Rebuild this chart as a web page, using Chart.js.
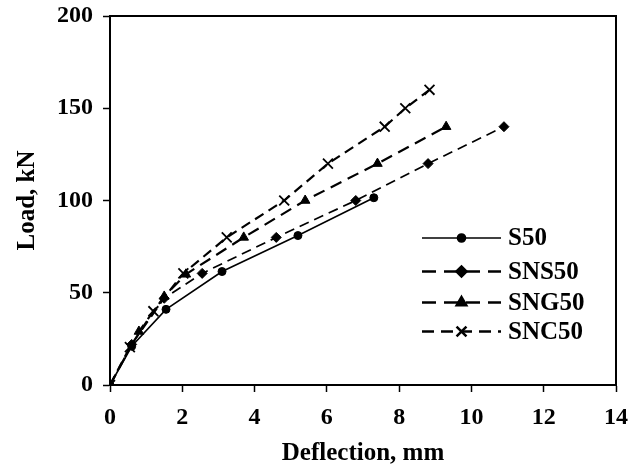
<!DOCTYPE html>
<html>
<head>
<meta charset="utf-8">
<script src="https://cdn.jsdelivr.net/npm/chart.js@4.4.1/dist/chart.umd.min.js"></script>
<style>
  html, body { margin: 0; padding: 0; background: #fff; }
</style>
</head>
<body>
<canvas id="myChart" width="641" height="475"></canvas>
<script>
// values
const seriesNames = ['S50', 'SNS50', 'SNG50', 'SNC50'];

const s50X = [0, 0.6, 1.55, 3.1, 5.2, 7.3];
const s50Y = [0, 21, 41, 61.5, 81, 101.5];

const sns50X = [0, 0.6, 1.5, 2.55, 4.6, 6.8, 8.8, 10.9];
const sns50Y = [0, 22, 47, 60.5, 80, 100, 120, 140];

const sng50X = [0, 0.8, 1.5, 2.1, 3.7, 5.4, 7.4, 9.3];
const sng50Y = [0, 29, 48, 60, 80, 100, 120, 140];

const snc50X = [0, 0.55, 1.2, 2.03, 3.23, 4.82, 6.03, 7.6, 8.17, 8.84];
const snc50Y = [0, 20.5, 40, 60.5, 80, 100, 120, 140, 150, 160];

const xTicks = [0, 2, 4, 6, 8, 10, 12, 14];
const yTicks = [0, 50, 100, 150, 200];

function toPoints(xs, ys) {
    return xs.map((x, i) => ({ x: x, y: ys[i] }));
}

const styles = [
    { marker: 'circle',   radius: 4,   dash: [],       width: 1.6, legendDash: [],       legendWidth: 1.6 },
    { marker: 'rectRot',  radius: 5,   dash: [10, 6],  width: 1.7, legendDash: [14, 8],  legendWidth: 2.5 },
    { marker: 'triangle', radius: 5.5, dash: [12, 7],  width: 2.2, legendDash: [14, 8],  legendWidth: 2.5 },
    { marker: 'crossRot', radius: 7,   dash: [10, 6],  width: 2.2, legendDash: [12, 7],  legendWidth: 2.5 }
];

const allX = [s50X, sns50X, sng50X, snc50X];
const allY = [s50Y, sns50Y, sng50Y, snc50Y];

const datasets = seriesNames.map((name, i) => ({
    label: name,
    data: toPoints(allX[i], allY[i]),
    borderColor: '#000',
    backgroundColor: '#000',
    borderWidth: styles[i].width,
    borderDash: styles[i].dash,
    pointStyle: styles[i].marker,
    pointRadius: styles[i].radius,
    pointBorderWidth: styles[i].marker === 'crossRot' ? 1.8 : 1,
    pointBackgroundColor: '#000',
    pointBorderColor: '#000',
    tension: 0,
    fill: false
}));

const tickFont = { family: 'Liberation Serif', size: 24, weight: 'bold' };
const titleFont = { family: 'Liberation Serif', size: 25, weight: 'bold' };

// box round the plot (top and right sides)
const framePlugin = {
    id: 'frame',
    afterDatasetsDraw(chart) {
        const a = chart.chartArea;
        const ctx = chart.ctx;
        ctx.save();
        ctx.strokeStyle = '#000';
        ctx.lineWidth = 2;
        ctx.beginPath();
        ctx.moveTo(a.left, a.top);
        ctx.lineTo(a.right, a.top);
        ctx.lineTo(a.right, a.bottom);
        ctx.stroke();
        ctx.restore();
    }
};

// legend drawn inside the plot, line + marker + name
const legendPlugin = {
    id: 'insideLegend',
    afterDraw(chart) {
        const ctx = chart.ctx;
        const x0 = 422, x1 = 501, tx = 508;
        const rows = [238, 271.5, 302.5, 331.5];
        ctx.save();
        seriesNames.forEach((name, i) => {
            const y = rows[i];
            ctx.strokeStyle = '#000';
            ctx.lineWidth = styles[i].legendWidth;
            ctx.setLineDash(styles[i].legendDash);
            ctx.beginPath();
            ctx.moveTo(x0, y);
            ctx.lineTo(x1, y);
            ctx.stroke();
            ctx.setLineDash([]);
            Chart.helpers.drawPoint(ctx, {
                pointStyle: styles[i].marker,
                radius: styles[i].radius,
                borderWidth: styles[i].marker === 'crossRot' ? 1.8 : 1,
                rotation: 0
            }, (x0 + x1) / 2, y);
            ctx.fillStyle = '#000';
            ctx.font = 'bold 25px "Liberation Serif"';
            ctx.textBaseline = 'middle';
            ctx.textAlign = 'left';
            ctx.fillText(name, tx, y + 1);
        });
        ctx.restore();
    }
};

new Chart(document.getElementById('myChart'), {
    type: 'line',
    data: { datasets: datasets },
    options: {
        responsive: false,
        animation: false,
        devicePixelRatio: 1,
        layout: { padding: { top: 16, right: 25, left: 0, bottom: 0 } },
        plugins: {
            legend: { display: false },
            tooltip: { enabled: false }
        },
        scales: {
            x: {
                type: 'linear',
                min: 0,
                max: 14,
                afterBuildTicks: s => { s.ticks = xTicks.map(v => ({ value: v })); },
                afterFit: s => { s.height = 90; s.paddingLeft = 0; s.paddingRight = 0; },
                ticks: { font: tickFont, color: '#000', padding: 11 },
                grid: { drawOnChartArea: false, drawTicks: true, tickLength: 7, tickColor: '#000', tickWidth: 1.5 },
                border: { color: '#000', width: 2 },
                title: {
                    display: true,
                    text: 'Deflection, mm',
                    color: '#000',
                    font: titleFont,
                    padding: { top: 0, bottom: 6 }
                }
            },
            y: {
                type: 'linear',
                min: 0,
                max: 200,
                afterBuildTicks: s => { s.ticks = yTicks.map(v => ({ value: v })); },
                afterFit: s => { s.width = 110; s.paddingTop = 0; s.paddingBottom = 0; },
                ticks: { font: tickFont, color: '#000', padding: 10 },
                grid: { drawOnChartArea: false, drawTicks: true, tickLength: 7, tickColor: '#000', tickWidth: 1.5 },
                border: { color: '#000', width: 2 },
                title: {
                    display: true,
                    text: 'Load, kN',
                    color: '#000',
                    font: titleFont,
                    padding: { top: 13, bottom: 0 }
                }
            }
        }
    },
    plugins: [framePlugin, legendPlugin]
});
</script>
</body>
</html>
